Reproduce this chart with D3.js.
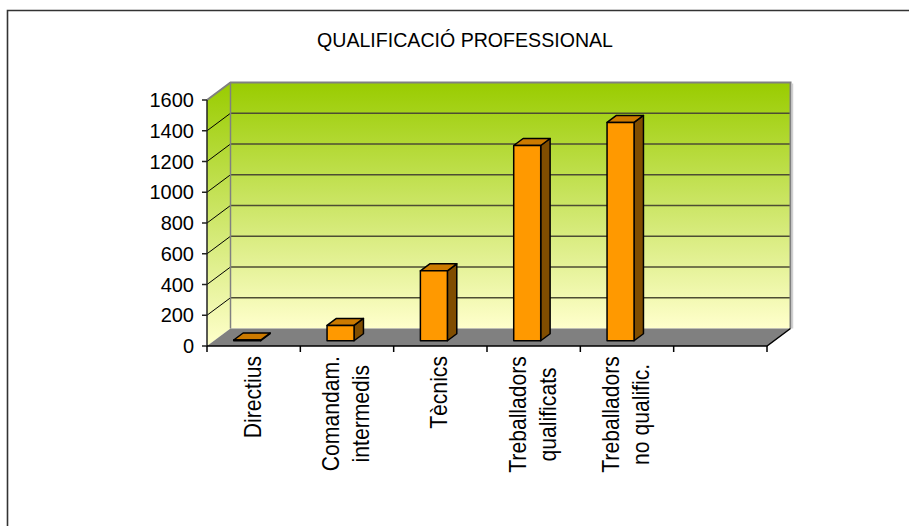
<!DOCTYPE html>
<html>
<head>
<meta charset="utf-8">
<script src="https://cdn.jsdelivr.net/npm/d3@7"></script>
<style>
html,body{margin:0;padding:0;background:#fff;}
svg{display:block;}
text{font-family:"Liberation Sans",Arial,sans-serif;fill:#000;}
</style>
</head>
<body>
<svg id="chart" width="909" height="526"></svg>
<script>
const title = "QUALIFICACIÓ PROFESSIONAL";
const categories = [["Directius"], ["Comandam.", "intermedis"], ["Tècnics"], ["Treballadors", "qualificats"], ["Treballadors", "no qualific."], [""]];
const values = [5, 100, 455, 1270, 1420, null];
const yTicks = [0, 200, 400, 600, 800, 1000, 1200, 1400, 1600];

const svg = d3.select("#chart");
const DX = 23.5, DY = 17.5;
const x = d3.scaleBand().domain(d3.range(categories.length)).range([207, 767]);
const y = d3.scaleLinear().domain([0, 1600]).range([346, 100]);
const bw = x.bandwidth();

// outer border (top & left)
svg.append("path").attr("d", "M7.5,526 V10.5 H909").attr("fill", "none").attr("stroke", "#333").attr("stroke-width", 1.6);

// title
svg.append("text").attr("x", 465).attr("y", 47).attr("text-anchor", "middle")
  .attr("font-size", 21).attr("textLength", 296).attr("lengthAdjust", "spacingAndGlyphs").text(title);

const defs = svg.append("defs");
const grad = defs.append("linearGradient").attr("id", "wall").attr("x1", 0).attr("y1", 0).attr("x2", 0).attr("y2", 1);
grad.append("stop").attr("offset", "0%").attr("stop-color", "#99CC00");
grad.append("stop").attr("offset", "100%").attr("stop-color", "#FFFFCC");
const gradL = defs.append("linearGradient").attr("id", "wallL").attr("gradientUnits", "userSpaceOnUse")
  .attr("x1", 0).attr("y1", y(1600) - DY).attr("x2", 0).attr("y2", y(0));
gradL.append("stop").attr("offset", "0%").attr("stop-color", "#99CC00");
gradL.append("stop").attr("offset", "100%").attr("stop-color", "#FFFFCC");

const x0 = x.range()[0], x1 = x.range()[1];
const yTop = y(1600), yBot = y(0);

// back wall
svg.append("rect").attr("x", x0 + DX).attr("y", yTop - DY).attr("width", x1 - x0).attr("height", yBot - yTop)
  .attr("fill", "url(#wall)");
// left wall
svg.append("path").attr("d", `M${x0},${yBot} L${x0},${yTop} L${x0 + DX},${yTop - DY} L${x0 + DX},${yBot - DY} Z`)
  .attr("fill", "url(#wallL)");
// floor
svg.append("path").attr("d", `M${x0},${yBot} L${x1},${yBot} L${x1 + DX},${yBot - DY} L${x0 + DX},${yBot - DY} Z`)
  .attr("fill", "#808080");

// gridlines
yTicks.filter(v => v > 0 && v < 1600).forEach(v => {
  svg.append("line").attr("x1", x0 + DX).attr("x2", x1 + DX).attr("y1", y(v) - DY).attr("y2", y(v) - DY)
    .attr("stroke", "#4d4d33").attr("stroke-width", 1.4);
  svg.append("line").attr("x1", x0).attr("x2", x0 + DX).attr("y1", y(v)).attr("y2", y(v) - DY)
    .attr("stroke", "#000").attr("stroke-width", 1);
});
// wall borders
svg.append("path").attr("d", `M${x0},${yTop} L${x0 + DX},${yTop - DY} L${x1 + DX},${yTop - DY} L${x1 + DX},${yBot - DY}`)
  .attr("fill", "none").attr("stroke", "#808080").attr("stroke-width", 2);
svg.append("line").attr("x1", x1 + DX + 2).attr("x2", x1 + DX + 2).attr("y1", yTop - DY + 1).attr("y2", yBot - DY)
  .attr("stroke", "#d0d0d0").attr("stroke-width", 1.5);
svg.append("line").attr("x1", x0 + DX).attr("x2", x0 + DX).attr("y1", yTop - DY).attr("y2", yBot - DY)
  .attr("stroke", "#808080").attr("stroke-width", 1.5);

// bars
const z0 = 0.3, z1 = 0.7, barW = 27;
const P = (px, py, z) => [px + z * DX, py - z * DY];
values.forEach((v, i) => {
  if (v == null) return;
  const bx0 = x(i) + bw / 2 - 27, bx1 = bx0 + barW;
  const yb = y(0), yt = y(v);
  const g = svg.append("g").attr("stroke", "#000").attr("stroke-width", 1.5).attr("stroke-linejoin", "round");
  const poly = pts => "M" + pts.map(p => p.join(",")).join("L") + "Z";
  g.append("path").attr("d", poly([P(bx1, yb, z0), P(bx1, yb, z1), P(bx1, yt, z1), P(bx1, yt, z0)])).attr("fill", "#804D00");
  g.append("path").attr("d", poly([P(bx0, yt, z0), P(bx1, yt, z0), P(bx1, yt, z1), P(bx0, yt, z1)])).attr("fill", "#CC7A00");
  g.append("path").attr("d", poly([P(bx0, yb, z0), P(bx1, yb, z0), P(bx1, yt, z0), P(bx0, yt, z0)])).attr("fill", "#FF9900");
});

// axes
svg.append("line").attr("x1", x0).attr("x2", x0).attr("y1", yTop).attr("y2", yBot).attr("stroke", "#222").attr("stroke-width", 1.5);
svg.append("path").attr("d", `M${x0},${yBot} L${x1},${yBot} L${x1 + DX},${yBot - DY}`).attr("fill", "none").attr("stroke", "#000").attr("stroke-width", 1.5);
yTicks.forEach(v => {
  svg.append("line").attr("x1", x0 - 5).attr("x2", x0).attr("y1", y(v)).attr("y2", y(v)).attr("stroke", "#222").attr("stroke-width", 1.5);
  svg.append("text").attr("x", 194).attr("y", y(v)).attr("dy", "0.36em").attr("text-anchor", "end")
    .attr("font-size", 20).text(v);
});
d3.range(categories.length + 1).forEach(i => {
  const tx = x0 + i * bw;
  svg.append("line").attr("x1", tx).attr("x2", tx).attr("y1", yBot).attr("y2", yBot + 6).attr("stroke", "#000").attr("stroke-width", 1.5);
});

// category labels (slightly condensed along their length, as in the reference)
const sx = 0.92;
categories.forEach((lines, i) => {
  const cx = x(i) + bw / 2;
  const g = svg.append("g");
  const n = lines.length;
  const texts = lines.map(t => g.append("text").attr("text-anchor", "middle").attr("font-size", 23).text(t));
  const maxLen = (d3.max(texts, t => t.node().getComputedTextLength()) || 0) * sx;
  const cy = 356 + maxLen / 2;
  texts.forEach((t, j) => {
    const bx = cx + 7 + (j - (n - 1) / 2) * 30;
    t.attr("transform", `translate(${bx},${cy}) rotate(-90) scale(${sx},1)`);
  });
});
</script>
</body>
</html>
